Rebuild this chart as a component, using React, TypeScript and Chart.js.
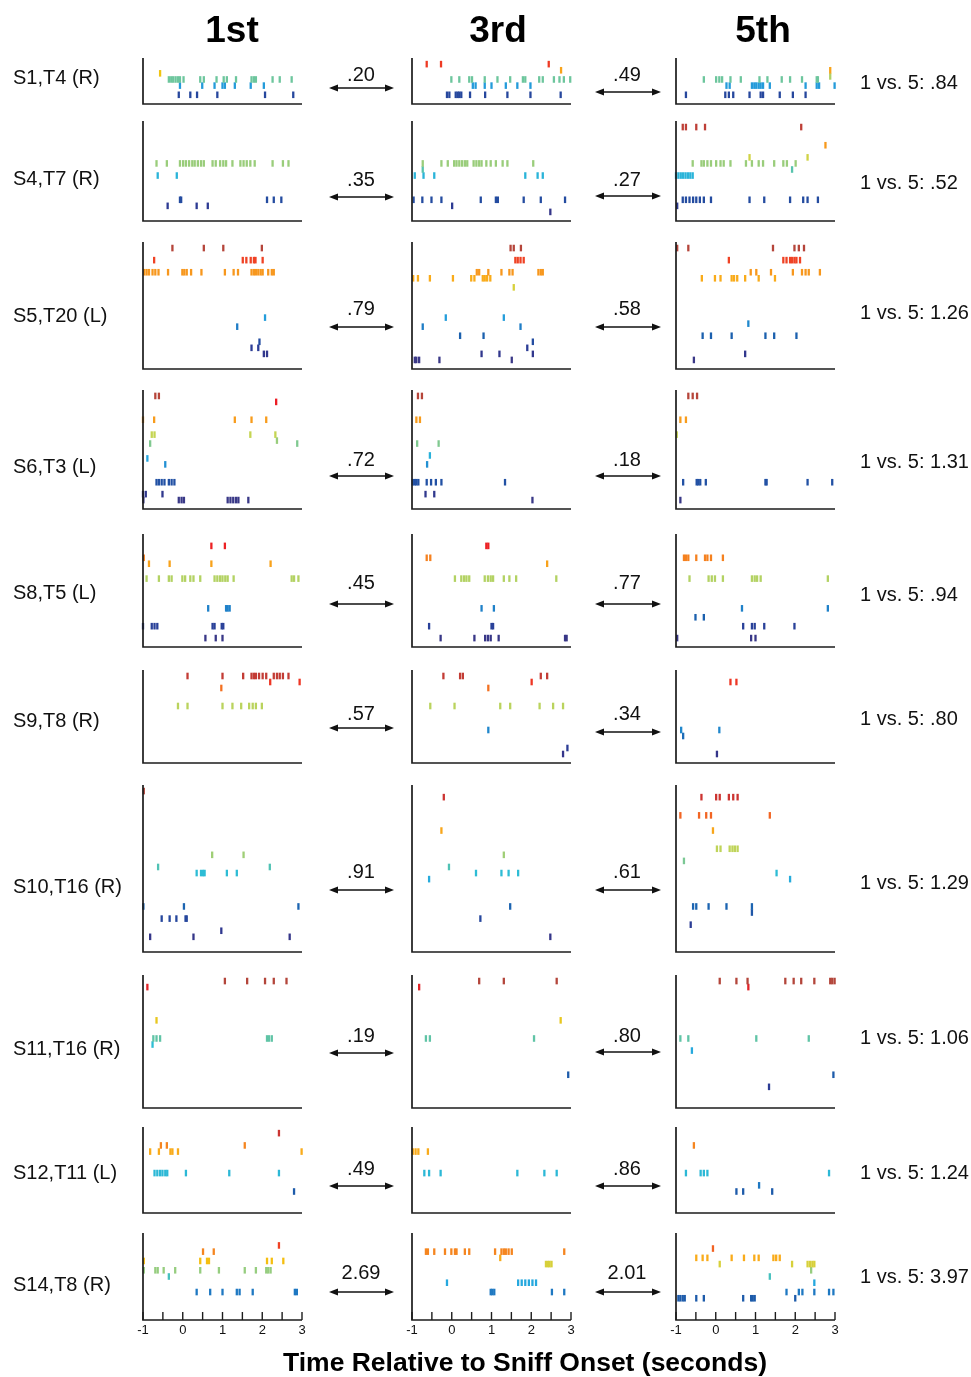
import React, { useEffect, useRef } from "react";
import { Chart, registerables } from "chart.js";

Chart.register(...registerables);

type Trial = [number, number[]];

// ---------- text data ----------
const sessionTitles = ["1st", "3rd", "5th"];
const cellLabels = [
  "S1,T4 (R)", "S4,T7 (R)", "S5,T20 (L)", "S6,T3 (L)", "S8,T5 (L)",
  "S9,T8 (R)", "S10,T16 (R)", "S11,T16 (R)", "S12,T11 (L)", "S14,T8 (R)",
];
const dist1to3 = [".20", ".35", ".79", ".72", ".45", ".57", ".91", ".19", ".49", "2.69"];
const dist3to5 = [".49", ".27", ".58", ".18", ".77", ".34", ".61", ".80", ".86", "2.01"];
const dist1to5 = ["1 vs. 5: .84", "1 vs. 5: .52", "1 vs. 5: 1.26", "1 vs. 5: 1.31", "1 vs. 5: .94",
  "1 vs. 5: .80", "1 vs. 5: 1.29", "1 vs. 5: 1.06", "1 vs. 5: 1.24", "1 vs. 5: 3.97"];
const trialSlots = [15, 33, 42, 40, 38, 31, 55, 44, 28, 28];
const timeTicks = [-1, -0.5, 0, 0.5, 1, 1.5, 2, 2.5, 3];
const timeTickLabels = ["-1", "", "0", "", "1", "", "2", "", "3"];
const xAxisTitle = "Time Relative to Sniff Onset (seconds)";

// ---------- spike rasters: [trial, spike times (s)] ----------
const r1a: Trial[] = [
  [5, [-0.57]],
  [7, [-0.35, -0.29, -0.24, -0.18, -0.12, -0.07, 0.02, 0.44, 0.53, 0.85, 1.03, 1.11, 1.34, 1.73, 1.79, 1.84, 2.26, 2.44, 2.74]],
  [9, [-0.07, 0.49, 0.8, 1.0, 1.06, 1.31, 1.71, 2.04]],
  [12, [-0.1, 0.19, 0.36, 0.87, 2.07, 2.78]],
];
const r1b: Trial[] = [
  [2, [-0.63, -0.27, 2.44]],
  [4, [2.75]],
  [7, [-0.01, 0.19, 0.44, 0.51, 0.83, 1.15, 1.47, 1.79, 1.85, 2.2, 2.29, 2.57, 2.71, 2.82, 2.98]],
  [9, [0.53, 0.6, 0.83, 1.0, 1.36, 1.65, 1.98]],
  [12, [-0.12, -0.06, 0.1, 0.15, 0.19, 0.24, 0.46, 0.84, 1.4, 1.98, 2.74]],
];
const r1c: Trial[] = [
  [4, [2.88]],
  [6, [2.88]],
  [7, [-0.3, 0.01, 0.09, 0.16, 0.37, 0.63, 1.1, 1.3, 1.66, 1.87, 2.17, 2.54, 2.57]],
  [9, [0.27, 0.35, 0.91, 0.97, 1.02, 1.08, 1.13, 1.19, 1.36, 2.26, 2.54, 2.6, 2.99]],
  [12, [-0.75, 0.24, 0.33, 0.44, 0.85, 1.13, 1.19, 1.61, 1.94, 2.26]],
];
const r2a: Trial[] = [
  [14, [-0.66, -0.4, -0.07, 0.01, 0.08, 0.16, 0.24, 0.3, 0.38, 0.46, 0.53, 0.75, 0.83, 0.94, 1.02, 1.09, 1.25, 1.45, 1.53, 1.61, 1.7, 1.81, 2.26, 2.52, 2.66]],
  [18, [-0.63, -0.15]],
  [26, [-0.07, -0.04, 2.12, 2.29, 2.48]],
  [28, [-0.38, 0.35, 0.63]],
];
const r2b: Trial[] = [
  [14, [-0.73, -0.26, -0.1, 0.06, 0.12, 0.19, 0.26, 0.33, 0.39, 0.55, 0.62, 0.69, 0.75, 0.87, 0.98, 1.11, 1.28, 1.4, 2.05]],
  [16, [-0.73]],
  [18, [-0.93, -0.71, -0.44, 1.85, 2.16, 2.29]],
  [26, [-0.96, -0.74, -0.51, -0.26, 0.73, 1.11, 1.16, 1.81, 2.24, 2.85]],
  [28, [0.01]],
  [30, [2.48]],
];
const r2c: Trial[] = [
  [2, [-0.83, -0.75, -0.49, -0.27, 2.15]],
  [8, [2.76]],
  [12, [0.85, 2.31]],
  [14, [-0.58, -0.36, -0.3, -0.21, -0.12, 0.01, 0.12, 0.2, 0.37, 0.76, 0.91, 1.08, 1.19, 1.47, 1.7, 1.79, 2.01]],
  [16, [1.92]],
  [18, [-1.0, -0.94, -0.88, -0.82, -0.76, -0.7, -0.64, -0.58]],
  [26, [-0.83, -0.75, -0.66, -0.57, -0.49, -0.4, -0.3, -0.12, 0.85, 1.22, 1.87, 2.2, 2.31, 2.57]],
  [28, [-0.97]],
];
const r3a: Trial[] = [
  [2, [-0.26, 0.53, 1.02, 1.99]],
  [6, [-0.72, 1.51, 1.6, 1.71, 1.79, 1.83, 2.01]],
  [10, [-0.97, -0.91, -0.85, -0.76, -0.69, -0.61, -0.37, -0.01, 0.04, 0.1, 0.21, 0.47, 1.06, 1.28, 1.39, 1.73, 1.79, 1.84, 1.9, 1.96, 2.01, 2.15, 2.24, 2.29]],
  [25, [2.07]],
  [28, [1.37]],
  [33, [1.93]],
  [35, [1.73, 1.9]],
  [37, [2.04, 2.12]],
];
const r3b: Trial[] = [
  [2, [1.48, 1.56, 1.74]],
  [6, [1.6, 1.66, 1.73, 1.81]],
  [10, [0.63, 0.69, 0.92, 1.25, 1.45, 1.53, 2.18, 2.24, 2.29]],
  [12, [-0.97, -0.85, -0.55, 0.03, 0.49, 0.57, 0.78, 0.83, 0.89, 0.97]],
  [15, [1.56]],
  [25, [-0.15, 1.31]],
  [28, [-0.73, 1.73]],
  [31, [0.21, 0.8]],
  [33, [2.04]],
  [35, [1.9]],
  [37, [0.75, 1.2, 2.04]],
  [39, [-0.93, -0.89, -0.82, -0.31, 1.51]],
];
const r3c: Trial[] = [
  [2, [-0.97, -0.69, 1.44, 1.98, 2.09, 2.22]],
  [6, [0.33, 1.7, 1.78, 1.87, 1.92, 1.98, 2.03, 2.12]],
  [10, [0.88, 1.02, 1.39, 1.94, 2.17, 2.26, 2.34, 2.62]],
  [12, [-0.35, -0.02, 0.12, 0.4, 0.46, 0.54, 0.74, 1.08, 1.49]],
  [27, [0.82]],
  [31, [-0.33, -0.12, 0.4, 1.25, 1.47, 2.03]],
  [37, [0.74]],
  [39, [-0.55]],
];
const r4a: Trial[] = [
  [2, [-0.69, -0.6]],
  [4, [2.35]],
  [10, [-1.0, -0.72, 1.31, 1.73, 2.1]],
  [15, [-0.78, -0.71, 1.7, 2.33]],
  [17, [2.37]],
  [18, [-0.82, 2.88]],
  [23, [-0.89]],
  [25, [-0.44]],
  [31, [-0.66, -0.6, -0.53, -0.46, -0.35, -0.28, -0.21]],
  [35, [-1.0, -0.93, -0.51]],
  [37, [-0.99, -0.1, -0.03, 0.03, 1.13, 1.2, 1.27, 1.34, 1.4, 1.65]],
];
const r4b: Trial[] = [
  [2, [-0.85, -0.75]],
  [10, [-0.89, -0.8]],
  [18, [-0.87, -0.33]],
  [22, [-0.55]],
  [25, [-0.62]],
  [31, [-0.98, -0.93, -0.89, -0.84, -0.63, -0.52, -0.4, -0.26, 1.34]],
  [35, [-0.66, -0.44]],
  [37, [2.03]],
];
const r4c: Trial[] = [
  [2, [-0.69, -0.58, -0.47]],
  [10, [-0.89, -0.75]],
  [15, [-0.98]],
  [31, [-0.82, -0.48, -0.44, -0.39, -0.25, 1.25, 1.28, 2.31, 2.93]],
  [37, [-0.89]],
];
const r5a: Trial[] = [
  [4, [0.72, 1.06]],
  [8, [-0.98]],
  [10, [-0.85, -0.33, 0.72, 2.21]],
  [15, [-0.91, -0.6, -0.35, -0.28, -0.01, 0.06, 0.19, 0.27, 0.44, 0.8, 0.87, 0.94, 1.0, 1.07, 1.13, 1.28, 2.74, 2.8, 2.91]],
  [25, [0.64, 1.09, 1.13, 1.18]],
  [31, [-1.0, -0.78, -0.71, -0.64, 0.75, 0.8, 0.98, 1.02]],
  [35, [0.57, 0.83, 1.0]],
];
const r5b: Trial[] = [
  [4, [0.87, 0.92]],
  [8, [-0.63, -0.54]],
  [10, [2.4]],
  [15, [0.08, 0.24, 0.31, 0.37, 0.44, 0.83, 0.91, 0.98, 1.04, 1.31, 1.45, 1.62, 2.63]],
  [25, [0.75, 1.06]],
  [31, [-0.57, 1.0, 1.04]],
  [35, [-0.28, 0.57, 0.84, 0.91, 0.98, 1.18, 2.85, 2.89]],
];
const r5c: Trial[] = [
  [8, [-0.8, -0.75, -0.69, -0.49, -0.27, -0.21, -0.12, 0.18]],
  [15, [-0.66, -0.18, -0.1, -0.02, 0.18, 0.91, 0.98, 1.04, 1.13, 2.82]],
  [25, [0.66, 2.82]],
  [28, [-0.51, -0.3]],
  [31, [0.69, 0.91, 0.98, 1.22, 1.98]],
  [35, [-0.97, 0.89, 1.0]],
];
const r6a: Trial[] = [
  [2, [0.12, 1.0, 1.52, 1.73, 1.79, 1.84, 1.92, 2.01, 2.1, 2.29, 2.37, 2.44, 2.52, 2.66]],
  [4, [2.2, 2.94]],
  [6, [0.97]],
  [12, [-0.12, 0.12, 1.0, 1.25, 1.47, 1.67, 1.76, 1.84, 1.99]],
];
const r6b: Trial[] = [
  [2, [-0.21, 0.21, 0.28, 2.24, 2.4]],
  [4, [2.01]],
  [6, [0.92]],
  [12, [-0.54, 0.07, 1.22, 1.47, 2.21, 2.55, 2.8]],
  [20, [0.92]],
  [26, [2.91]],
  [28, [2.8]],
];
const r6c: Trial[] = [
  [4, [0.37, 0.52]],
  [20, [-0.87, 0.09]],
  [22, [-0.82]],
  [28, [0.03]],
];
const r7a: Trial[] = [
  [2, [-0.98]],
  [23, [0.74, 1.53]],
  [27, [-0.62, 2.19]],
  [29, [0.35, 0.46, 0.51, 0.55, 1.11, 1.36]],
  [40, [-0.99, 0.03, 2.91]],
  [44, [-0.53, -0.33, -0.16, 0.07, 0.1]],
  [48, [0.97]],
  [50, [-0.82, 0.27, 2.69]],
];
const r7b: Trial[] = [
  [4, [-0.2]],
  [15, [-0.26]],
  [23, [1.31]],
  [27, [-0.07]],
  [29, [0.61, 1.25, 1.43, 1.67]],
  [31, [-0.57]],
  [40, [1.47]],
  [44, [0.72]],
  [50, [2.48]],
];
const r7c: Trial[] = [
  [4, [-0.36, 0.01, 0.1, 0.33, 0.44, 0.55]],
  [10, [-0.89, -0.42, -0.24, -0.12, 1.36]],
  [15, [-0.07]],
  [21, [0.03, 0.12, 0.35, 0.42, 0.48, 0.55]],
  [25, [-0.8]],
  [29, [1.53]],
  [31, [1.87]],
  [40, [-0.57, -0.49, -0.18, 0.27, 0.91]],
  [42, [0.91]],
  [46, [-0.63]],
];
const r8a: Trial[] = [
  [2, [1.06, 1.62, 2.07, 2.29, 2.61]],
  [4, [-0.89]],
  [15, [-0.66]],
  [21, [-0.74, -0.66, -0.57, 2.12, 2.17, 2.24]],
  [23, [-0.76]],
];
const r8b: Trial[] = [
  [2, [0.69, 1.31, 2.64]],
  [4, [-0.82]],
  [15, [2.74]],
  [21, [-0.65, -0.55, 2.07]],
  [33, [2.93]],
];
const r8c: Trial[] = [
  [2, [0.1, 0.52, 0.8, 1.75, 1.96, 2.15, 2.48, 2.88, 2.93, 2.99]],
  [4, [0.82]],
  [21, [-0.89, -0.69, 1.02, 2.34]],
  [25, [-0.6]],
  [33, [2.96]],
  [37, [1.34]],
];
const r9a: Trial[] = [
  [2, [2.42]],
  [6, [-0.55, -0.4, 1.56]],
  [8, [-0.82, -0.6, -0.31, -0.26, -0.12, 2.99]],
  [15, [-0.71, -0.64, -0.57, -0.51, -0.44, -0.39, 0.08, 1.17, 2.42]],
  [21, [2.8]],
];
const r9b: Trial[] = [
  [8, [-0.98, -0.91, -0.84, -0.6]],
  [15, [-0.69, -0.57, -0.28, 1.65, 2.33, 2.64]],
];
const r9c: Trial[] = [
  [6, [-0.55]],
  [15, [-0.75, -0.38, -0.3, -0.21, 2.85]],
  [19, [1.09]],
  [21, [0.52, 0.69, 1.42]],
];
const r10a: Trial[] = [
  [4, [2.42]],
  [6, [0.51, 0.78]],
  [9, [-0.98, 0.44, 0.61, 0.66, 2.12, 2.24, 2.53]],
  [12, [-0.98, -0.69, -0.63, -0.48, -0.19, 0.44, 0.91, 1.56, 1.84, 2.1, 2.15, 2.21]],
  [14, [-0.35]],
  [19, [0.35, 0.69, 1.0, 1.36, 1.43, 1.76, 2.82, 2.87]],
];
const r10b: Trial[] = [
  [6, [-0.65, -0.6, -0.44, -0.17, -0.01, 0.08, 0.12, 0.33, 0.44, 1.09, 1.25, 1.31, 1.36, 1.43, 1.51, 2.83]],
  [8, [1.22]],
  [10, [2.37, 2.42, 2.46, 2.51]],
  [16, [-0.12, 1.67, 1.76, 1.85, 1.94, 2.03, 2.12]],
  [19, [0.98, 1.02, 1.07, 2.52, 2.83]],
];
const r10c: Trial[] = [
  [5, [-0.07]],
  [8, [-0.49, -0.33, -0.21, 0.4, 0.71, 0.97, 1.08, 1.45, 1.52, 1.61]],
  [10, [0.1, 1.92, 2.31, 2.37, 2.43, 2.48]],
  [12, [2.4]],
  [14, [1.36]],
  [16, [2.48]],
  [19, [1.78, 2.09, 2.18, 2.48, 2.85, 2.96]],
  [21, [-0.94, -0.89, -0.83, -0.78, -0.49, -0.3, 0.69, 0.89, 0.93, 0.98, 2.0]],
];

const rasters: Trial[][][] = [
  [r1a, r1b, r1c], [r2a, r2b, r2c], [r3a, r3b, r3c], [r4a, r4b, r4c], [r5a, r5b, r5c],
  [r6a, r6b, r6c], [r7a, r7b, r7c], [r8a, r8b, r8c], [r9a, r9b, r9c], [r10a, r10b, r10c],
];

// ---------- layout (pixels) ----------
const rowTop = [58, 121, 242, 390, 534, 670, 785, 975, 1127, 1233];
const rowBottom = [104, 221, 369, 509, 647, 763, 952, 1108, 1213, 1320];
const colLeft = [143, 412, 676];
const panelW = 159;
const titleX = [232, 498, 763];
const labelMidY = [77, 178, 315, 466, 592, 720, 886, 1048, 1172, 1284];
const summaryMidY = [82, 182, 312, 461, 594, 718, 882, 1037, 1172, 1276];
const pairNumMidY = [74, 179, 308, 459, 582, 713, 871, 1035, 1168, 1272];
const arrowY1 = [88, 197, 327, 476, 604, 728, 890, 1053, 1186, 1292];
const arrowY2 = [92, 196, 327, 476, 604, 732, 890, 1052, 1186, 1292];
const FONT = "'Liberation Sans', Arial, Helvetica, sans-serif";

// trial-order colour map (top = dark red ... bottom = dark blue)
const colorStops: [number, string][] = [
  [0.0, "#9e4a3c"], [0.055, "#b8443a"], [0.1, "#ec1c24"], [0.17, "#f15a24"],
  [0.23, "#f7941d"], [0.29, "#f9ad1a"], [0.33, "#f4c20d"], [0.37, "#c9d64f"],
  [0.44, "#8ccb88"], [0.48, "#5dc3a8"], [0.52, "#2ebfd3"], [0.58, "#25a4e0"],
  [0.66, "#1f80c8"], [0.74, "#1b5fad"], [0.82, "#2a3f98"], [0.9, "#33358a"],
  [1.0, "#4a3f7e"],
];
function hexToRgb(h: string) {
  return [parseInt(h.slice(1, 3), 16), parseInt(h.slice(3, 5), 16), parseInt(h.slice(5, 7), 16)];
}
function trialColor(f: number) {
  const v = Math.max(0, Math.min(1, f));
  for (let i = 0; i < colorStops.length - 1; i++) {
    const [a, ca] = colorStops[i];
    const [b, cb] = colorStops[i + 1];
    if (v >= a && v <= b) {
      const t = (v - a) / (b - a);
      const A = hexToRgb(ca), B = hexToRgb(cb);
      const c = A.map((x, k) => Math.round(x + (B[k] - x) * t));
      return `rgb(${c[0]},${c[1]},${c[2]})`;
    }
  }
  return colorStops[colorStops.length - 1][1];
}

const axesPlugin = {
  id: "rasterAxes",
  afterDraw(chart: any, _args: any, opts: any) {
    const { ctx, chartArea: a } = chart;
    const xs = chart.scales.x;
    ctx.save();
    ctx.strokeStyle = "#1c1c1c";
    ctx.lineWidth = 1.7;
    ctx.beginPath();
    ctx.moveTo(a.left, a.top);
    ctx.lineTo(a.left, a.bottom);
    ctx.lineTo(a.right, a.bottom);
    ctx.stroke();
    if (opts && opts.ticks) {
      ctx.lineWidth = 1.4;
      ctx.fillStyle = "#111";
      ctx.font = `13px ${FONT}`;
      ctx.textAlign = "center";
      ctx.textBaseline = "alphabetic";
      timeTicks.forEach((v, i) => {
        const px = xs.getPixelForValue(v);
        ctx.beginPath();
        ctx.moveTo(px, a.bottom);
        ctx.lineTo(px, a.bottom - 8);
        ctx.stroke();
        if (timeTickLabels[i]) ctx.fillText(timeTickLabels[i], px, a.bottom + 14);
      });
    }
    ctx.restore();
  },
};

const PAD = 6;

function Raster(props: { trials: Trial[]; n: number; left: number; top: number; height: number; ticks: boolean }) {
  const ref = useRef<HTMLCanvasElement>(null);
  const { trials, n, left, top, height, ticks } = props;
  const bottomPad = ticks ? 22 : PAD;
  useEffect(() => {
    const datasets = trials.map(([u, times]) => {
      const c = trialColor(u / n);
      return {
        data: times.map((t) => ({ x: t, y: u })),
        showLine: false,
        clip: false as any,
        pointStyle: "line" as const,
        pointRotation: 90,
        pointRadius: 3.3,
        pointHoverRadius: 3.3,
        pointBorderWidth: 2.3,
        pointHoverBorderWidth: 2.3,
        pointBorderColor: c,
        pointBackgroundColor: c,
        borderColor: c,
        backgroundColor: c,
      };
    });
    const chart = new Chart(ref.current!, {
      type: "scatter",
      data: { datasets },
      options: {
        animation: false,
        responsive: false,
        events: [],
        layout: { padding: { left: PAD, right: PAD, top: PAD, bottom: bottomPad } },
        scales: {
          x: { type: "linear", min: -1, max: 3, display: false },
          y: { type: "linear", min: 0, max: n, reverse: true, display: false },
        },
        plugins: {
          legend: { display: false },
          tooltip: { enabled: false },
          rasterAxes: { ticks },
        } as any,
      },
      plugins: [axesPlugin],
    });
    return () => chart.destroy();
  }, []);
  const w = panelW + 2 * PAD;
  const h = height + PAD + bottomPad;
  return (
    <canvas
      ref={ref}
      width={w}
      height={h}
      style={{ position: "absolute", left: left - PAD, top: top - PAD, width: w, height: h }}
    />
  );
}

function Arrow({ x1, x2, y }: { x1: number; x2: number; y: number }) {
  const L = 9, H = 3.6;
  return (
    <g>
      <line x1={x1 + L - 1} y1={y} x2={x2 - L + 1} y2={y} stroke="#111" strokeWidth={1.6} />
      <polygon points={`${x1},${y} ${x1 + L},${y - H} ${x1 + L},${y + H}`} fill="#111" />
      <polygon points={`${x2},${y} ${x2 - L},${y - H} ${x2 - L},${y + H}`} fill="#111" />
    </g>
  );
}

export default function App() {
  return (
    <div style={{ position: "absolute", left: 0, top: 0, width: 971, height: 1377, background: "#fff", overflow: "hidden" }}>
      {rasters.map((row, r) =>
        row.map((trials, c) => (
          <Raster
            key={`${r}-${c}`}
            trials={trials}
            n={trialSlots[r]}
            left={colLeft[c]}
            top={rowTop[r]}
            height={rowBottom[r] - rowTop[r]}
            ticks={r === rasters.length - 1}
          />
        ))
      )}
      <svg width={971} height={1377} style={{ position: "absolute", left: 0, top: 0, pointerEvents: "none" }}>
        {sessionTitles.map((t, i) => (
          <text key={t} x={titleX[i]} y={42} textAnchor="middle" fontFamily={FONT} fontWeight="bold" fontSize={37} fill="#000">
            {t}
          </text>
        ))}
        {cellLabels.map((t, i) => (
          <text key={t} x={13} y={labelMidY[i] + 7} fontFamily={FONT} fontSize={20} fill="#111">
            {t}
          </text>
        ))}
        {dist1to3.map((t, i) => (
          <text key={"a" + i} x={361} y={pairNumMidY[i] + 7} textAnchor="middle" fontFamily={FONT} fontSize={20} fill="#111">
            {t}
          </text>
        ))}
        {dist3to5.map((t, i) => (
          <text key={"b" + i} x={627} y={pairNumMidY[i] + 7} textAnchor="middle" fontFamily={FONT} fontSize={20} fill="#111">
            {t}
          </text>
        ))}
        {dist1to5.map((t, i) => (
          <text key={"c" + i} x={860} y={summaryMidY[i] + 7} fontFamily={FONT} fontSize={20} fill="#111">
            {t}
          </text>
        ))}
        {arrowY1.map((y, i) => (
          <Arrow key={"l" + i} x1={329} x2={394} y={y} />
        ))}
        {arrowY2.map((y, i) => (
          <Arrow key={"r" + i} x1={595} x2={661} y={y} />
        ))}
        <text x={525} y={1371} textAnchor="middle" fontFamily={FONT} fontWeight="bold" fontSize={26.5} fill="#000">
          {xAxisTitle}
        </text>
      </svg>
    </div>
  );
}
